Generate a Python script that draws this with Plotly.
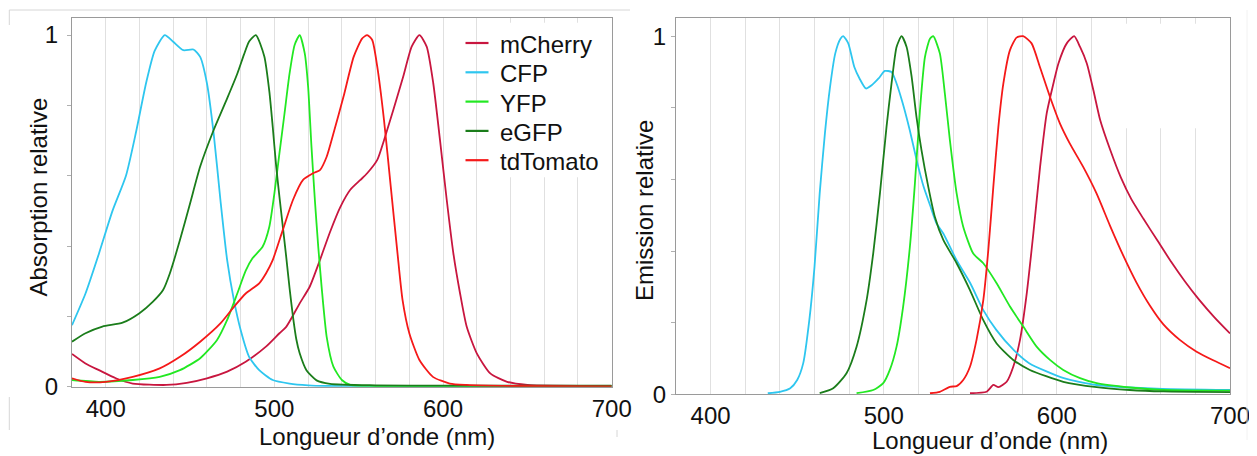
import plotly.graph_objects as go

# The page adds an 8px body margin; the figure is sized so it fills the window from that offset.
OFF = 8
W, H = 1257 - 2 * OFF, 456 - OFF

# ---------------- data ----------------
legend_names = ["mCherry", "CFP", "YFP", "eGFP", "tdTomato"]

# Absorption spectra
abs_mcherry_nm = [380, 388, 396, 406, 416, 436, 448, 460, 472, 483, 495, 503, 507, 515, 521, 527, 533, 539, 545,
                  551, 555, 561, 565, 570.5, 576.4, 581.4, 586, 590.3, 594.2, 598.2, 602.2, 606.1, 610.1, 614,
                  620, 628, 638, 650, 700]
abs_mcherry = [0.093, 0.066, 0.047, 0.024, 0.009, 0.005, 0.011, 0.024, 0.043, 0.071, 0.114, 0.152, 0.17, 0.237,
               0.285, 0.36, 0.44, 0.51, 0.56, 0.588, 0.607, 0.645, 0.701, 0.787, 0.882, 0.967, 1.0, 0.967, 0.863,
               0.701, 0.531, 0.38, 0.265, 0.171, 0.095, 0.038, 0.014, 0.005, 0.002]

abs_cfp_nm = [380, 388, 396, 404, 412, 418, 424, 429, 435, 440, 446, 452, 456, 460, 464, 468, 472, 476, 480,
              485, 491, 499, 509, 520, 531, 560, 700]
abs_cfp = [0.175, 0.265, 0.379, 0.5, 0.6, 0.725, 0.865, 0.955, 1.0, 0.981, 0.957, 0.959, 0.938, 0.863, 0.72,
           0.531, 0.36, 0.246, 0.161, 0.085, 0.047, 0.019, 0.009, 0.004, 0.002, 0.001, 0.001]

abs_yfp_nm = [380, 396, 416, 432, 444, 456, 466, 472, 478, 483, 487, 493, 497, 500, 503, 506, 509, 512, 515,
              518, 520, 522, 524, 526, 528, 531, 535, 540, 545, 560, 700]
abs_yfp = [0.019, 0.014, 0.019, 0.028, 0.047, 0.081, 0.133, 0.19, 0.265, 0.33, 0.365, 0.398, 0.455, 0.55, 0.664,
           0.777, 0.891, 0.972, 1.0, 0.948, 0.853, 0.682, 0.531, 0.398, 0.284, 0.142, 0.057, 0.019, 0.005, 0.002,
           0.002]

abs_egfp_nm = [380, 388, 398, 410, 420, 428, 434, 438, 444, 450, 456, 464, 472, 478, 482, 485, 489, 494, 497,
               499, 501, 503, 505, 507, 509, 511, 513, 515, 519, 525, 533, 560, 600, 650, 700]
abs_egfp = [0.128, 0.152, 0.171, 0.182, 0.209, 0.242, 0.275, 0.322, 0.417, 0.521, 0.626, 0.73, 0.82, 0.89,
            0.945, 0.982, 1.0, 0.94, 0.84, 0.74, 0.63, 0.54, 0.455, 0.37, 0.28, 0.2, 0.135, 0.095, 0.047, 0.018,
            0.008, 0.004, 0.003, 0.003, 0.003]

abs_tdtomato_nm = [380, 388, 400, 416, 432, 444, 456, 468, 476, 483, 491, 495, 499, 505, 511, 517, 523, 527, 531,
                   535, 541, 547, 552, 555, 558, 561, 565, 569, 573, 576, 580, 586, 594, 604, 614, 640, 700]
abs_tdtomato = [0.024, 0.014, 0.014, 0.028, 0.052, 0.085, 0.128, 0.18, 0.227, 0.265, 0.294, 0.322, 0.36, 0.446,
                0.531, 0.588, 0.607, 0.616, 0.654, 0.72, 0.825, 0.938, 0.99, 1.0, 0.986, 0.91, 0.758, 0.569,
                0.379, 0.246, 0.152, 0.076, 0.028, 0.009, 0.005, 0.002, 0.001]

# Emission spectra
em_mcherry_nm = [549.8, 559.4, 563.3, 566.2, 571, 574.8, 578.7, 582.6, 586.4, 590.3, 594.1, 598, 600.9, 605.7,
                 610, 613.4, 617.3, 621.1, 625, 631, 637, 643, 650, 658, 666, 674, 682, 691, 700]
em_mcherry = [0.003, 0.007, 0.026, 0.02, 0.035, 0.077, 0.152, 0.282, 0.449, 0.635, 0.784, 0.868, 0.924, 0.98,
              1.0, 0.97, 0.924, 0.849, 0.766, 0.68, 0.605, 0.545, 0.49, 0.43, 0.37, 0.315, 0.265, 0.215, 0.17]

em_cfp_nm = [433, 440, 446, 450, 453.5, 457, 460, 463, 466, 469, 472, 475, 476.6, 479.5, 483, 486, 489.7, 493,
             497, 500.6, 504.5, 507.4, 511, 515, 519, 523, 526.6, 530.5, 534.4, 542, 550, 557.5, 565, 575, 584,
             604, 623, 642, 661, 700]
em_cfp = [0.003, 0.007, 0.017, 0.04, 0.087, 0.207, 0.356, 0.561, 0.728, 0.859, 0.952, 0.993, 1.0, 0.98, 0.914,
          0.882, 0.854, 0.863, 0.882, 0.903, 0.9, 0.868, 0.812, 0.738, 0.654, 0.58, 0.53, 0.477, 0.449, 0.375,
          0.31, 0.235, 0.18, 0.124, 0.087, 0.045, 0.026, 0.019, 0.015, 0.012]

em_yfp_nm = [484.3, 493.9, 499.7, 503.5, 507.4, 511.2, 515.1, 518, 520.9, 523.8, 526.7, 528.6, 532.4, 535.3,
             538.2, 542.1, 545.9, 551.7, 557.5, 565.2, 572.9, 580.6, 588.3, 596, 603.7, 613.4, 623, 642.2, 661.5,
             700]
em_yfp = [0.003, 0.012, 0.031, 0.068, 0.133, 0.245, 0.412, 0.589, 0.793, 0.942, 0.993, 1.0, 0.952, 0.84, 0.71,
          0.561, 0.468, 0.393, 0.366, 0.31, 0.245, 0.189, 0.133, 0.096, 0.068, 0.045, 0.031, 0.019, 0.012, 0.01]

em_egfp_nm = [463, 470.8, 478.5, 484.3, 490.1, 493.9, 497.8, 501.6, 504.5, 507.4, 510.3, 513.2, 516.1, 518.9,
              521.8, 525.7, 529.5, 534.4, 542.1, 549.8, 557.5, 565.2, 574.8, 584.4, 603.7, 623, 642, 661.5, 700]
em_egfp = [0.003, 0.017, 0.059, 0.133, 0.263, 0.393, 0.561, 0.747, 0.868, 0.97, 1.0, 0.97, 0.887, 0.775, 0.682,
           0.58, 0.496, 0.431, 0.366, 0.291, 0.207, 0.142, 0.096, 0.068, 0.035, 0.02, 0.012, 0.008, 0.006]

em_tdtomato_nm = [526.7, 532.4, 538.2, 542.1, 545.9, 549.8, 553.6, 557.5, 560.4, 563.3, 566.2, 569.1, 572.9,
                  576.7, 580.5, 585.4, 590.2, 596, 601.8, 607.5, 615.2, 622.9, 630.6, 638.3, 646, 653.7, 661.4,
                  671, 680.7, 690.3, 700]
em_tdtomato = [0.003, 0.007, 0.021, 0.023, 0.04, 0.077, 0.152, 0.263, 0.403, 0.58, 0.747, 0.868, 0.961, 0.996,
               1.0, 0.98, 0.914, 0.831, 0.756, 0.7, 0.635, 0.561, 0.472, 0.388, 0.312, 0.248, 0.196, 0.152, 0.119,
               0.095, 0.073]

x_tick_vals = list(range(380, 701, 20))
x_tick_labels = {400: "400", 500: "500", 600: "600", 700: "700"}
y_tick_vals = [0, 0.2, 0.4, 0.6, 0.8, 1.0]
y_tick_labels = ["0", "", "", "", "", "1"]

x_title = "Longueur d\u2019onde (nm)"
y_title_abs = "Absorption relative"
y_title_em = "Emission relative"

# ---------------- styling ----------------
colors = {
    "mCherry": "#c8163f",
    "CFP": "#2ec6ef",
    "YFP": "#22e822",
    "eGFP": "#1b7d1b",
    "tdTomato": "#f51919",
}
FONT = "Liberation Sans, Arial, Helvetica, sans-serif"
FS = 24
LW = 1.8
SMOOTH = 0.6

abs_data = {
    "mCherry": (abs_mcherry_nm, abs_mcherry),
    "CFP": (abs_cfp_nm, abs_cfp),
    "YFP": (abs_yfp_nm, abs_yfp),
    "eGFP": (abs_egfp_nm, abs_egfp),
    "tdTomato": (abs_tdtomato_nm, abs_tdtomato),
}
em_data = {
    "mCherry": (em_mcherry_nm, em_mcherry),
    "CFP": (em_cfp_nm, em_cfp),
    "YFP": (em_yfp_nm, em_yfp),
    "eGFP": (em_egfp_nm, em_egfp),
    "tdTomato": (em_tdtomato_nm, em_tdtomato),
}

fig = go.Figure()
for name in legend_names:
    xs, ys = abs_data[name]
    fig.add_trace(go.Scatter(x=xs, y=ys, mode="lines", name=name, xaxis="x", yaxis="y", showlegend=False,
                             line=dict(color=colors[name], width=LW, shape="spline", smoothing=SMOOTH)))
for name in legend_names:
    xs, ys = em_data[name]
    fig.add_trace(go.Scatter(x=xs, y=ys, mode="lines", name=name, xaxis="x2", yaxis="y2", showlegend=False,
                             line=dict(color=colors[name], width=LW, shape="spline", smoothing=SMOOTH)))


def px_x(p):
    """reference-image pixel x -> paper fraction"""
    return (p - OFF) / W


def px_y(p):
    """reference-image pixel y (from top) -> paper fraction"""
    return 1 - (p - OFF) / H


axis_line = "#9a9a9a"
grid = "#e0e0e0"
tickfont = dict(family=FONT, size=FS, color="#111")
xcommon = dict(range=[380, 700], tickmode="array", tickvals=x_tick_vals,
               ticktext=[x_tick_labels.get(v, "") for v in x_tick_vals],
               showgrid=True, gridcolor=grid, gridwidth=1, showline=True, linecolor=axis_line, linewidth=1,
               mirror=True, ticks="", ticklen=0, zeroline=False, tickfont=tickfont, fixedrange=True,
               automargin=False, ticklabeloverflow="allow")
ycommon = dict(range=[0, 1.05], tickmode="array", tickvals=y_tick_vals, ticktext=y_tick_labels,
               showgrid=False, showline=True, linecolor=axis_line, linewidth=1, mirror=True,
               ticks="outside", ticklen=4, tickcolor="#b0b0b0", zeroline=False,
               tickfont=tickfont, fixedrange=True, automargin=False)

fig.update_layout(
    width=W, height=H, autosize=False,
    margin=dict(l=0, r=0, t=0, b=0, pad=0, autoexpand=False),
    paper_bgcolor="white", plot_bgcolor="white",
    font=dict(family=FONT, size=FS, color="#111"),
    xaxis=dict(domain=[px_x(72), px_x(611.7)], anchor="y", **xcommon),
    yaxis=dict(domain=[px_y(386.7), px_y(17.5)], anchor="x", ticklabelstandoff=4, **ycommon),
    xaxis2=dict(domain=[px_x(676), px_x(1230)], anchor="y2", **xcommon),
    yaxis2=dict(domain=[px_y(394.3), px_y(18.3)], anchor="x2", ticklabelstandoff=0, **ycommon),
    showlegend=False,
)

annotations = [
    dict(text=x_title, x=px_x(376.5), y=px_y(436), xref="paper", yref="paper", showarrow=False,
         xanchor="center", yanchor="middle", font=dict(family=FONT, size=FS, color="#111")),
    dict(text=x_title, x=px_x(989.5), y=px_y(440.5), xref="paper", yref="paper", showarrow=False,
         xanchor="center", yanchor="middle", font=dict(family=FONT, size=FS, color="#111")),
    dict(text=y_title_abs, x=px_x(37.5), y=px_y(197), xref="paper", yref="paper", showarrow=False,
         textangle=-90, xanchor="center", yanchor="middle", font=dict(family=FONT, size=FS, color="#111")),
    dict(text=y_title_em, x=px_x(644), y=px_y(211), xref="paper", yref="paper", showarrow=False,
         textangle=-90, xanchor="center", yanchor="middle", font=dict(family=FONT, size=FS, color="#111")),
]

shapes = [
    # areas where the original gridlines are hidden (removed legend boxes)
    dict(type="rect", xref="x", yref="y", x0=630, x1=699.5, y0=0.596, y1=1.035, fillcolor="white",
         line=dict(width=0), layer="between"),
    dict(type="rect", xref="x2", yref="y2", x0=630, x1=699.5, y0=0.743, y1=1.035, fillcolor="white",
         line=dict(width=0), layer="between"),
    # faint page-border remnants
    dict(type="line", xref="paper", yref="paper", x0=px_x(9.3), x1=px_x(630), y0=px_y(10), y1=px_y(10),
         line=dict(color="#d6d6d6", width=1)),
    dict(type="line", xref="paper", yref="paper", x0=px_x(9.3), x1=px_x(9.3), y0=px_y(10), y1=px_y(25),
         line=dict(color="#d6d6d6", width=1)),
    dict(type="line", xref="paper", yref="paper", x0=px_x(9.3), x1=px_x(9.3), y0=px_y(397), y1=px_y(430),
         line=dict(color="#d6d6d6", width=1)),
    dict(type="line", xref="paper", yref="paper", x0=px_x(617), x1=px_x(617), y0=px_y(430), y1=px_y(437),
         line=dict(color="#d6d6d6", width=1)),
    dict(type="line", xref="paper", yref="paper", x0=px_x(1247), x1=px_x(1247), y0=px_y(10), y1=px_y(440),
         line=dict(color="#f2f2f2", width=1)),
]

# hand-placed legend (sample line + label) inside the absorption panel
legend_rows_y = [43, 72.3, 101.6, 130.9, 160.2]
for name, ry in zip(legend_names, legend_rows_y):
    shapes.append(dict(type="line", xref="paper", yref="paper", x0=px_x(465.5), x1=px_x(488.5),
                       y0=px_y(ry), y1=px_y(ry), line=dict(color=colors[name], width=2.2)))
    annotations.append(dict(text=name, x=px_x(498), y=px_y(ry + 1.5), xref="paper", yref="paper",
                            showarrow=False, xanchor="left", yanchor="middle",
                            font=dict(family=FONT, size=FS, color="#111")))

fig.update_layout(annotations=annotations, shapes=shapes)

fig.write_html("out.html")
